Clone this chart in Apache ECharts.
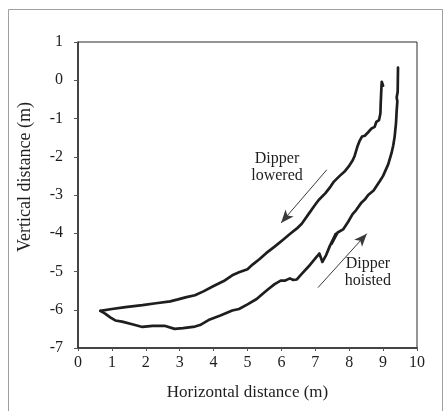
<!DOCTYPE html>
<html>
<head>
<meta charset="utf-8">
<script src="https://cdn.jsdelivr.net/npm/echarts@6/dist/echarts.min.js"></script>
<style>
  html, body { margin: 0; padding: 0; background: #fff; }
  #chart { width: 444px; height: 411px; }
</style>
</head>
<body>
<div id="chart"></div>
<script>
// Dipper trajectory: path while lowering (top right -> bottom left)
const loweredX = [9.00, 8.96, 8.95, 8.93, 8.92, 8.88, 8.80, 8.75, 8.66, 8.56, 8.46, 8.38, 8.30, 8.24, 8.16, 8.10, 7.98, 7.88, 7.72, 7.55, 7.45, 7.30, 7.10, 7.00, 6.80, 6.60, 6.45, 6.25, 6.05, 5.80, 5.55, 5.35, 5.15, 5.00, 4.75, 4.55, 4.30, 4.00, 3.70, 3.45, 3.20, 2.95, 2.72, 2.30, 1.90, 1.40, 1.00, 0.66];
const loweredY = [-0.14, -0.04, -0.20, -0.60, -0.87, -1.04, -1.09, -1.22, -1.26, -1.36, -1.45, -1.47, -1.60, -1.74, -1.98, -2.10, -2.26, -2.37, -2.50, -2.65, -2.78, -2.95, -3.13, -3.25, -3.50, -3.75, -3.88, -4.02, -4.17, -4.35, -4.52, -4.68, -4.82, -4.94, -5.02, -5.10, -5.25, -5.38, -5.52, -5.62, -5.67, -5.73, -5.78, -5.83, -5.88, -5.93, -5.98, -6.03];

// Path while hoisting (bottom left -> top right)
const hoistedX = [0.66, 0.80, 0.95, 1.10, 1.30, 1.60, 1.90, 2.20, 2.55, 2.85, 3.10, 3.45, 3.60, 3.85, 4.20, 4.55, 4.75, 5.00, 5.27, 5.45, 5.60, 5.80, 5.98, 6.10, 6.25, 6.35, 6.45, 6.58, 6.80, 7.00, 7.12, 7.21, 7.32, 7.43, 7.60, 7.48, 7.66, 7.82, 7.97, 8.10, 8.20, 8.36, 8.46, 8.56, 8.72, 8.90, 9.00, 9.15, 9.25, 9.30, 9.34, 9.38, 9.40, 9.42, 9.40, 9.43, 9.44];
const hoistedY = [-6.03, -6.10, -6.20, -6.28, -6.31, -6.38, -6.45, -6.42, -6.42, -6.50, -6.48, -6.44, -6.40, -6.27, -6.15, -6.02, -5.98, -5.86, -5.72, -5.58, -5.47, -5.33, -5.24, -5.24, -5.18, -5.22, -5.21, -5.08, -4.87, -4.66, -4.53, -4.75, -4.57, -4.33, -4.02, -4.28, -3.98, -3.90, -3.70, -3.50, -3.40, -3.20, -3.12, -3.00, -2.88, -2.64, -2.50, -2.20, -1.90, -1.70, -1.48, -1.13, -0.80, -0.55, -0.45, -0.30, 0.33];

const xTicks = [0, 1, 2, 3, 4, 5, 6, 7, 8, 9, 10];
const yTicks = [-7, -6, -5, -4, -3, -2, -1, 0, 1];

// Direction arrows and their captions, in data units
const arrowLowered = [[7.34, -2.34], [5.99, -3.73]];
const arrowHoisted = [[7.08, -5.42], [8.52, -4.01]];
const captionLowered = { text: 'Dipper\nlowered', at: [5.87, -2.28] };
const captionHoisted = { text: 'Dipper\nhoisted', at: [8.55, -5.02] };

const serif = '"Liberation Serif", "DejaVu Serif", serif';
const ink = '#1e1e1e';

const zip = (xs, ys) => xs.map((x, i) => [x, ys[i]]);

const chart = echarts.init(document.getElementById('chart'), null, { renderer: 'canvas' });

const arrowLine = (pair) => ({
  type: 'line',
  data: [],
  silent: true,
  markLine: {
    silent: true,
    symbol: ['none', 'arrow'],
    symbolSize: [8, 13],
    lineStyle: { color: '#3a3a3a', width: 1, type: 'solid' },
    label: { show: false },
    data: [[{ coord: pair[0] }, { coord: pair[1] }]]
  }
});

chart.setOption({
  animation: false,
  backgroundColor: '#ffffff',
  grid: {
    left: 78, right: 27, top: 42, bottom: 63,
    show: true, borderColor: '#2a2a2a', borderWidth: 1, backgroundColor: 'transparent'
  },
  xAxis: {
    type: 'value', min: xTicks[0], max: xTicks[xTicks.length - 1], interval: 1,
    axisLine: { show: true, onZero: false, lineStyle: { color: '#2a2a2a', width: 1.5 } },
    axisTick: { show: true, inside: false, length: 3, lineStyle: { color: '#555' } },
    axisLabel: { margin: 7, fontFamily: serif, fontSize: 16, color: ink },
    splitLine: { show: false },
    name: 'Horizontal distance (m)', nameLocation: 'middle', nameGap: 36,
    nameTextStyle: { fontFamily: serif, fontSize: 17, color: ink }
  },
  yAxis: {
    type: 'value', min: yTicks[0], max: yTicks[yTicks.length - 1], interval: 1,
    axisLine: { show: true, onZero: false, lineStyle: { color: '#2a2a2a', width: 1.5 } },
    axisTick: { show: true, inside: false, length: 4, lineStyle: { color: '#555' } },
    axisLabel: { margin: 15, fontFamily: serif, fontSize: 16, color: ink },
    splitLine: { show: false }
  },
  series: [
    {
      name: 'Dipper lowered', type: 'line', data: zip(loweredX, loweredY),
      showSymbol: false, symbol: 'none', smooth: false,
      lineStyle: { color: ink, width: 2.7, join: 'round', cap: 'round' }
    },
    {
      name: 'Dipper hoisted', type: 'line', data: zip(hoistedX, hoistedY),
      showSymbol: false, symbol: 'none', smooth: false,
      lineStyle: { color: ink, width: 2.7, join: 'round', cap: 'round' }
    },
    arrowLine(arrowLowered),
    arrowLine(arrowHoisted)
  ]
});

// Captions and frame placed after layout so they follow the axes
function caption(c) {
  const p = chart.convertToPixel({ gridIndex: 0 }, c.at);
  return {
    type: 'text', x: p[0], y: p[1],
    style: {
      text: c.text, fill: ink, font: '16px ' + serif,
      textAlign: 'center', textVerticalAlign: 'middle', lineHeight: 17
    }
  };
}

chart.setOption({
  graphic: [
    {
      type: 'rect', shape: { x: 8.5, y: 9.5, width: 434, height: 420 },
      style: { fill: 'none', stroke: '#a0a0a0', lineWidth: 1 }, silent: true
    },
    {
      type: 'text', x: 25, y: 177, rotation: Math.PI / 2,
      style: {
        text: 'Vertical distance (m)', fill: ink, font: '18px ' + serif,
        textAlign: 'center', textVerticalAlign: 'middle'
      }
    },
    caption(captionLowered),
    caption(captionHoisted)
  ]
});
</script>
</body>
</html>
